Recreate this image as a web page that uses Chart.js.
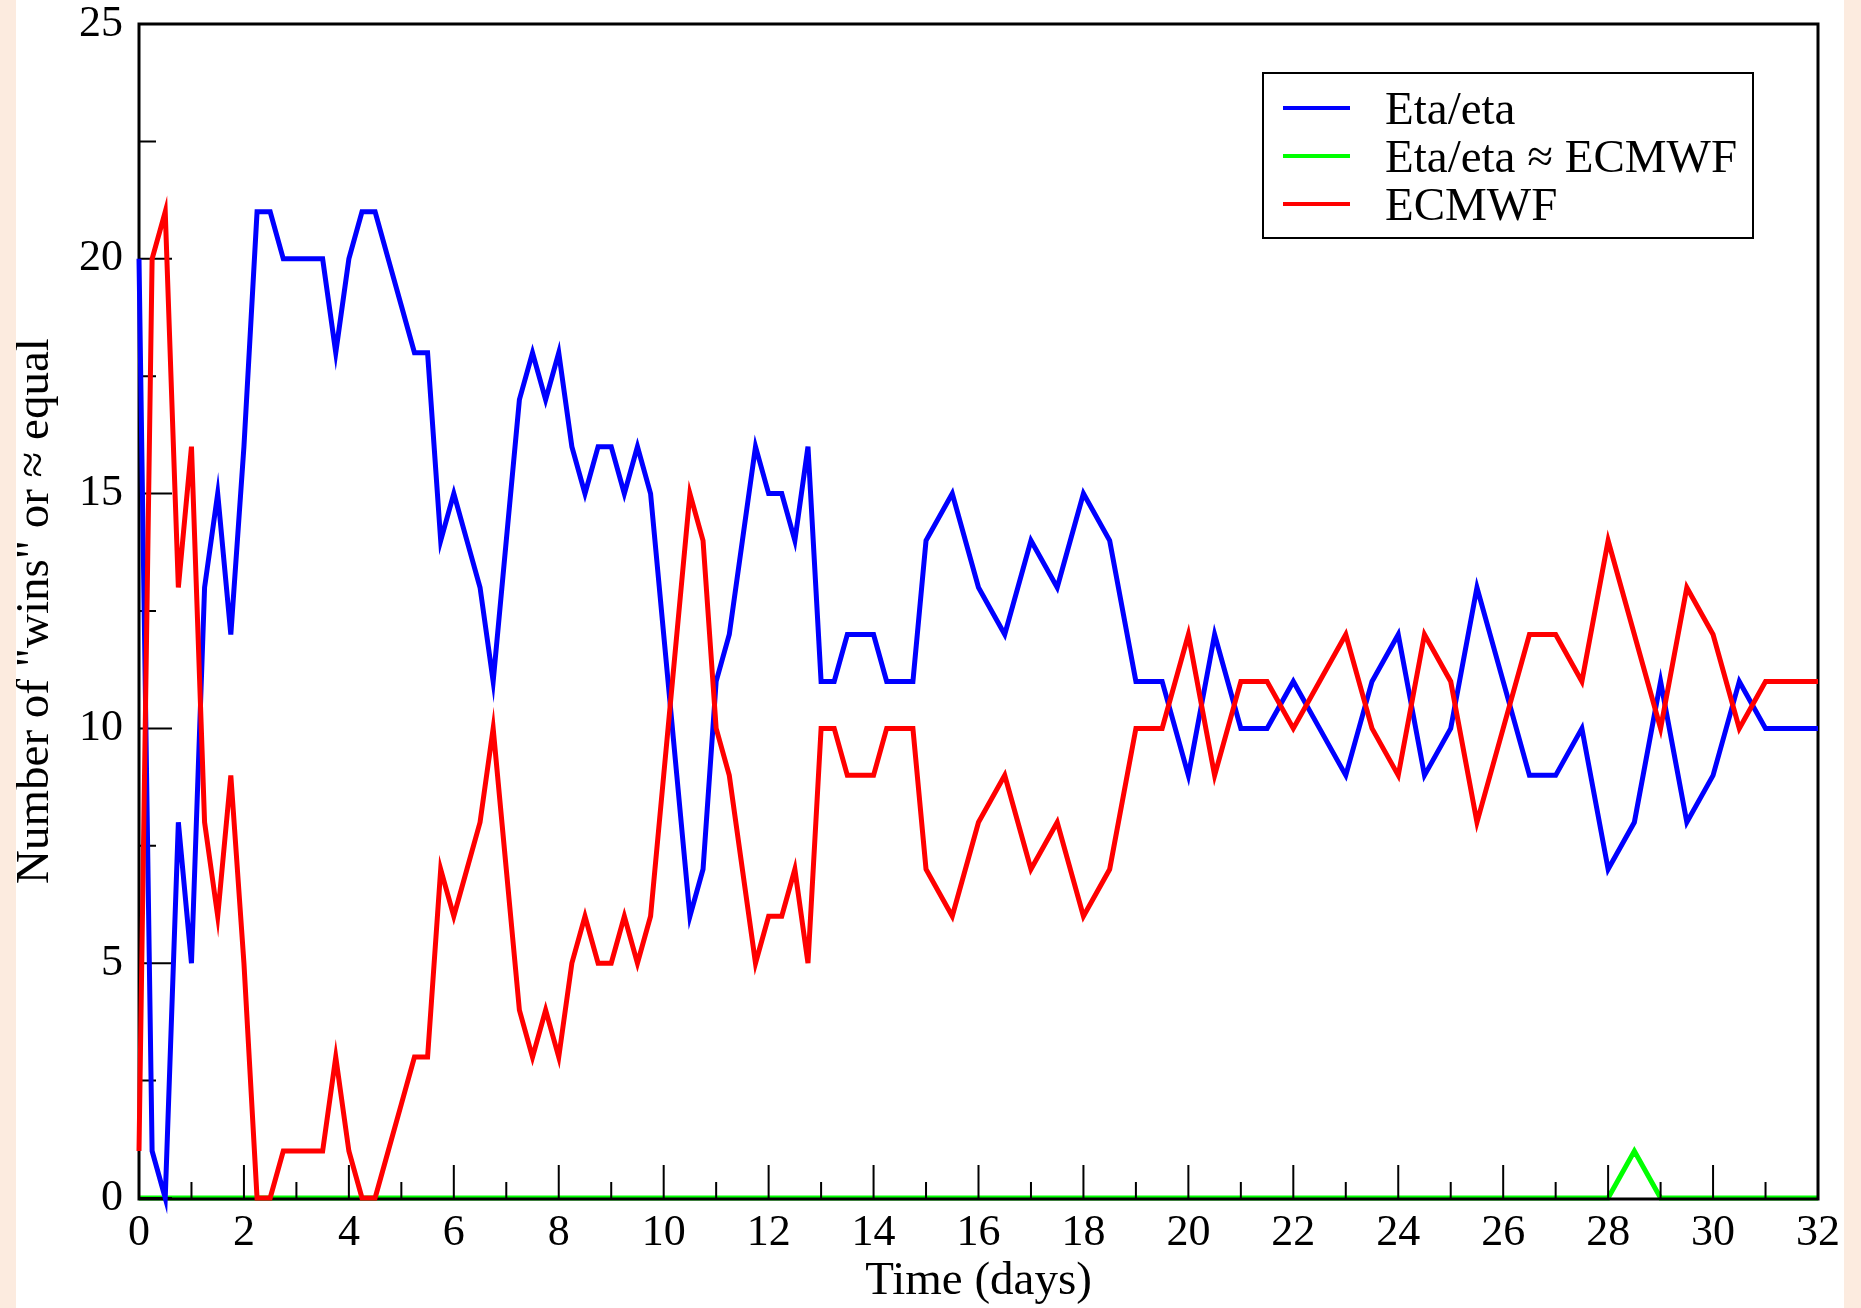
<!DOCTYPE html>
<html><head><meta charset="utf-8">
<script src="https://cdn.jsdelivr.net/npm/chart.js@4.4.1/dist/chart.umd.min.js"></script>
<style>
html,body{margin:0;padding:0;background:#fcebdf;width:1861px;height:1308px;overflow:hidden}
#wrap{position:absolute;left:16px;top:0;width:1828px;height:1308px;background:#fff}
canvas{display:block}
</style></head><body>
<div id="wrap"><canvas id="c" width="1828" height="1308"></canvas></div>
<script>
const days = [0,0.25,0.5,0.75,1,1.25,1.5,1.75,2,2.25,2.5,2.75,3,3.25,3.5,3.75,4,4.25,4.5,4.75,5,5.25,5.5,5.75,6,6.25,6.5,6.75,7,7.25,7.5,7.75,8,8.25,8.5,8.75,9,9.25,9.5,9.75,10,10.25,10.5,10.75,11,11.25,11.5,11.75,12,12.25,12.5,12.75,13,13.25,13.5,13.75,14,14.25,14.5,14.75,15,15.5,16,16.5,17,17.5,18,18.5,19,19.5,20,20.5,21,21.5,22,22.5,23,23.5,24,24.5,25,25.5,26,26.5,27,27.5,28,28.5,29,29.5,30,30.5,31,31.5,32];
const etaWins = [20,1,0,8,5,13,15,12, 16,21,21,20,20,20,20,18, 20,21,21,20,19,18,18,14, 15,14,13,11,14,17,18,17, 18,16,15,16,16,15,16,15, 12,9,6,7,11,12,14,16, 15,15,14,16,11,11,12,12, 12,11,11,11, 14,
  15,13,12,14,13,15,14,11,11,9,12,10,10,11,10,9,11,12,9,10,13,11,9,9,10,7,8,11,8,9,11,10,10,10];
const equalCount = [0,0,0,0,0,0,0,0, 0,0,0,0,0,0,0,0, 0,0,0,0,0,0,0,0, 0,0,0,0,0,0,0,0, 0,0,0,0,0,0,0,0, 0,0,0,0,0,0,0,0, 0,0,0,0,0,0,0,0, 0,0,0,0, 0,
  0,0,0,0,0,0,0,0,0,0,0,0,0,0,0,0,0,0,0,0,0,0,0,0,0,0,1,0,0,0,0,0,0,0];
const ecmwfWins = [1,20,21,13,16,8,6,9, 5,0,0,1,1,1,1,3, 1,0,0,1,2,3,3,7, 6,7,8,10,7,4,3,4, 3,5,6,5,5,6,5,6, 9,12,15,14,10,9,7,5, 6,6,7,5,10,10,9,9, 9,10,10,10, 7,
  6,8,9,7,8,6,7,10,10,12,9,11,11,10,11,12,10,9,12,11,8,10,12,12,11,14,12,10,13,12,10,11,11,11];
const seriesLabels = ['Eta/eta', 'Eta/eta \u2248 ECMWF', 'ECMWF'];
const seriesColors = ['#0000ff', '#00ff00', '#ff0000'];
const xAxisTitle = 'Time (days)';
const yAxisTitle = 'Number of "wins" or \u2248 equal';
const xRange = [0, 32];
const yRange = [0, 25];

const FONT = 'Liberation Serif';

const frameAndTicks = {
  id: 'frameAndTicks',
  afterDatasetDraw(chart, args) {
    if (args.index !== 1) return;
    const {ctx, chartArea: a, scales: {x, y}} = chart;
    ctx.save();
    ctx.strokeStyle = '#000';
    ctx.lineWidth = 2;
    ctx.beginPath();
    for (let v = xRange[0]; v <= xRange[1]; v += 1) {
      const px = x.getPixelForValue(v);
      const len = v % 2 === 0 ? 34 : 17;
      ctx.moveTo(px, a.bottom + 1); ctx.lineTo(px, a.bottom + 1 - len);
    }
    for (let v = yRange[0]; v <= yRange[1]; v += 2.5) {
      const py = y.getPixelForValue(v);
      const len = v % 5 === 0 ? 33 : 17;
      ctx.moveTo(a.left, py); ctx.lineTo(a.left + len, py);
    }
    ctx.stroke();
    ctx.lineWidth = 3;
    ctx.beginPath();
    ctx.moveTo(a.left, a.top); ctx.lineTo(a.right, a.top);
    ctx.lineTo(a.right, a.bottom + 1); ctx.lineTo(a.left, a.bottom + 1); ctx.closePath();
    ctx.stroke();
    ctx.restore();
  }
};

const boxLegend = {
  id: 'boxLegend',
  afterDraw(chart) {
    const ctx = chart.ctx;
    const L = 1247, T = 73, R = 1737, B = 238;
    ctx.save();
    ctx.fillStyle = '#fff'; ctx.fillRect(L, T, R - L, B - T);
    ctx.strokeStyle = '#000'; ctx.lineWidth = 2; ctx.strokeRect(L, T, R - L, B - T);
    ctx.font = '47px "' + FONT + '"';
    ctx.textBaseline = 'alphabetic';
    ctx.textAlign = 'left';
    chart.data.datasets.forEach((ds, i) => {
      const yy = 108 + i * 48;
      ctx.strokeStyle = ds.borderColor; ctx.lineWidth = 4;
      ctx.beginPath(); ctx.moveTo(1267, yy); ctx.lineTo(1334, yy); ctx.stroke();
      ctx.fillStyle = '#000';
      ctx.fillText(ds.label, 1369, yy + 16);
    });
    ctx.restore();
  }
};

function pts(vals) { return days.map((d, i) => ({x: d, y: vals[i]})); }

new Chart(document.getElementById('c'), {
  type: 'line',
  data: {
    datasets: [
      {label: seriesLabels[0], data: pts(etaWins), borderColor: seriesColors[0], order: 1},
      {label: seriesLabels[1], data: pts(equalCount), borderColor: seriesColors[1], order: 2},
      {label: seriesLabels[2], data: pts(ecmwfWins), borderColor: seriesColors[2], order: 0}
    ]
  },
  options: {
    responsive: false,
    animation: false,
    devicePixelRatio: 1,
    layout: {padding: {top: 24, right: 26, bottom: 0, left: 0}, autoPadding: false},
    elements: {
      line: {borderWidth: 5, tension: 0, fill: false, borderJoinStyle: 'miter', borderCapStyle: 'butt'},
      point: {radius: 0, hoverRadius: 0}
    },
    datasets: {line: {clip: false}},
    plugins: {legend: {display: false}, tooltip: {enabled: false}},
    scales: {
      x: {
        type: 'linear', min: xRange[0], max: xRange[1],
        afterFit(s) { s.height = 110; s.paddingLeft = 0; s.paddingRight = 0; },
        grid: {display: false, drawTicks: false},
        border: {display: false},
        ticks: {stepSize: 2, padding: 13, color: '#000', maxRotation: 0, autoSkip: false,
                font: {family: FONT, size: 44, lineHeight: 1}},
        title: {display: true, text: xAxisTitle, color: '#000', padding: 0,
                font: {family: FONT, size: 47, lineHeight: 1.1}}
      },
      y: {
        type: 'linear', min: yRange[0], max: yRange[1],
        afterFit(s) { s.width = 123; s.paddingTop = 0; s.paddingBottom = 0; },
        grid: {display: false, drawTicks: false},
        border: {display: false},
        ticks: {stepSize: 5, padding: 16, color: '#000',
                font: {family: FONT, size: 44, lineHeight: 1}},
        title: {display: true, text: yAxisTitle, color: '#000', padding: {top: -4, bottom: 0},
                font: {family: FONT, size: 47, lineHeight: 1}}
      }
    }
  },
  plugins: [frameAndTicks, boxLegend]
});
</script>
</body></html>
